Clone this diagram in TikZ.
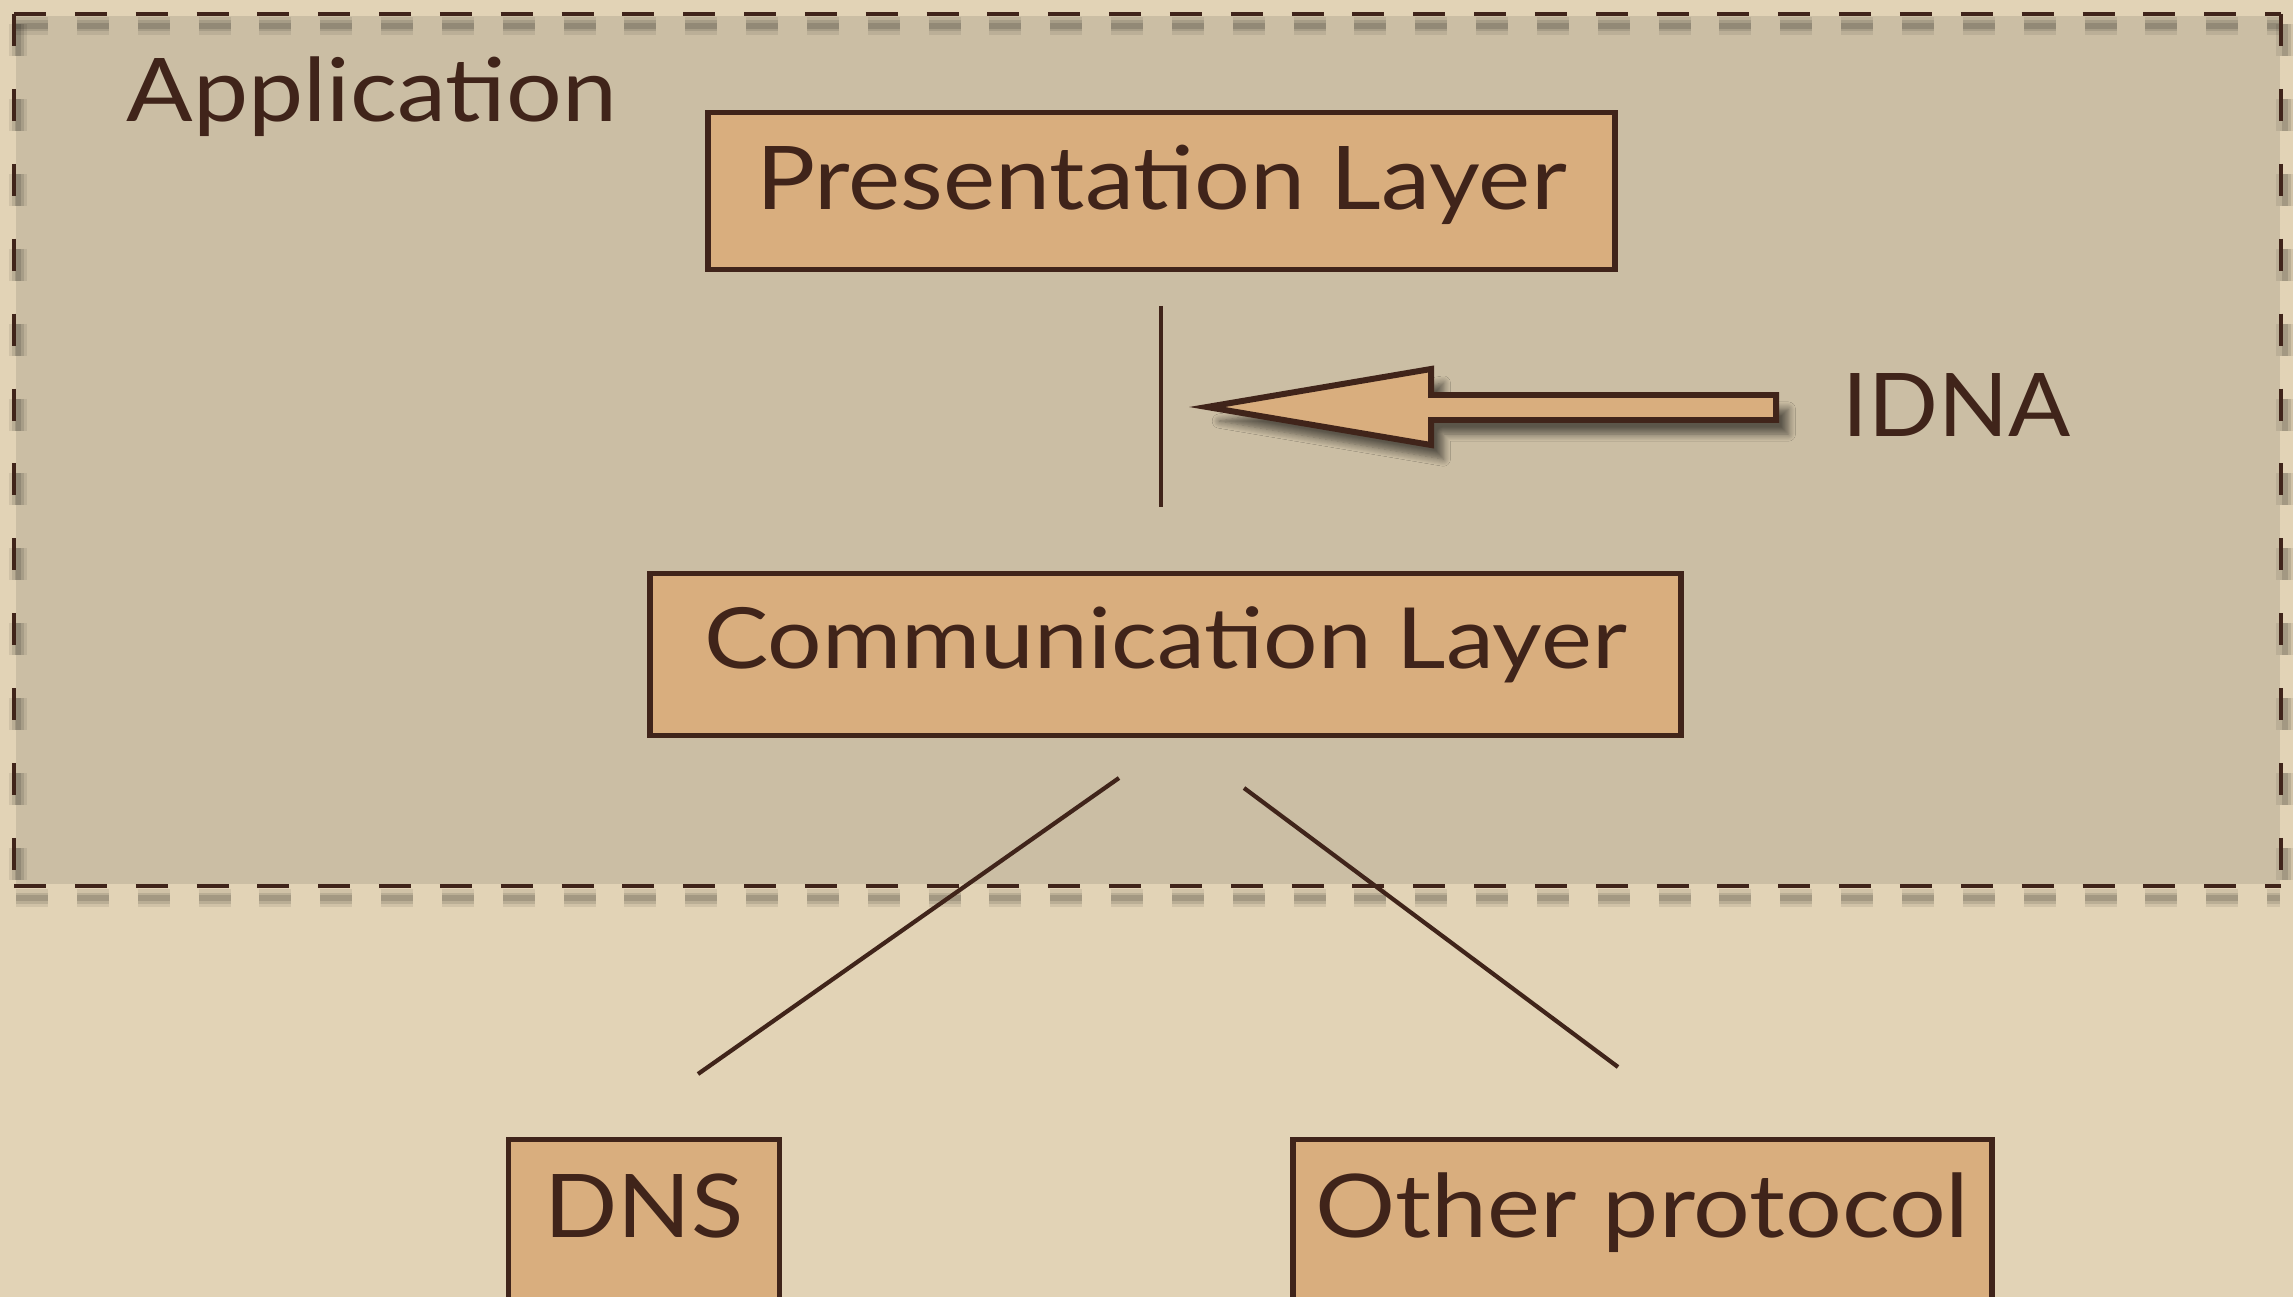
\documentclass[tikz,border=0pt]{standalone}
\usepackage{fontspec}
\setmainfont{Lato}
\usetikzlibrary{shadows.blur}
\definecolor{ink}{HTML}{40241A}
\definecolor{paper}{HTML}{E2D3B6}
\definecolor{paperin}{HTML}{CBBEA4}
\definecolor{tan}{HTML}{D9AE7E}
\newcommand\fitto[2]{\resizebox{#1}{\height}{#2}}
\tikzset{
  layerbox/.style={draw=ink, fill=tan, line width=1.6pt, inner sep=0pt, text=ink},
  conn/.style={draw=ink, line width=1.2pt},
  plain/.style={text=ink, inner sep=0pt},
  appdash/.style={draw=ink, line width=1.2pt, dash pattern=on 9.1pt off 8.2pt},
  appdashv/.style={draw=ink, line width=1.2pt, dash pattern=on 9.1pt off 12.2pt},
}
\begin{document}
\begin{tikzpicture}[x=0.01cm,y=-0.01cm]
\useasboundingbox (0,0) rectangle (2293,1297);
\clip (0,0) rectangle (2293,1297);
% background
\fill[paper] (0,0) rectangle (2293,1297);
% application region
\fill[paperin] (16,16) rectangle (2280,884);
% shadow of dashed frame
\foreach \w/\o in {18/0.08,11/0.10,6/0.12}{
  \draw[black,opacity=\o,line width=\w*0.2845pt,dash pattern=on 9.1pt off 8.2pt] (16,26) -- (2280,26);
  \draw[black,opacity=\o,line width=\w*0.2845pt,dash pattern=on 9.1pt off 8.2pt] (16,898) -- (2280,898);
  \draw[black,opacity=\o,line width=\w*0.2845pt,dash pattern=on 9.1pt off 12.2pt] (18,24) -- (18,884);
  \draw[black,opacity=\o,line width=\w*0.2845pt,dash pattern=on 9.1pt off 12.2pt] (2285,24) -- (2285,884);
}
\coordinate (fa) at (14,14);
\coordinate (fb) at (2281,14);
\coordinate (fc) at (2281,886);
\coordinate (fd) at (14,886);
\draw[appdash] (fa) -- (fb);
\draw[appdash] (fd) -- (fc);
\draw[appdashv] (fa) -- (fd);
\draw[appdashv] (fb) -- (fc);

\node[plain, anchor=base west] (app) at (126,122)
  {\fontsize{25pt}{30pt}\selectfont\fitto{4.9cm}{Application}};

% layer boxes
\node[layerbox, minimum width=9.06cm, minimum height=1.57cm,
      text height=0.63cm, text depth=0.27cm] (pres) at (1161.5,191)
  {\fontsize{25pt}{30pt}\selectfont\fitto{8.1cm}{Presentation Layer}};
\node[layerbox, minimum width=10.30cm, minimum height=1.62cm,
      text height=0.60cm, text depth=0.33cm] (comm) at (1165.5,654.5)
  {\fontsize{24pt}{30pt}\selectfont\fitto{9.22cm}{Communication Layer}};
\node[layerbox, minimum width=2.71cm, minimum height=1.60cm,
      text height=0.63cm, text depth=0.28cm] (dns) at (644,1219.5)
  {\fontsize{25pt}{30pt}\selectfont\fitto{1.99cm}{DNS}};
\node[layerbox, minimum width=6.98cm, minimum height=1.60cm,
      text height=0.63cm, text depth=0.28cm] (other) at (1642.5,1219.5)
  {\fontsize{25pt}{30pt}\selectfont\fitto{6.53cm}{Other protocol}};

% vertical interface line
\coordinate (vtop) at (1161,306);
\coordinate (vbot) at (1161,507);
\draw[conn] (vtop) -- (vbot);

% branches
\coordinate (la) at (1119,778);
\coordinate (lb) at (698,1074);
\coordinate (ra) at (1244,788);
\coordinate (rb) at (1618,1067);
\draw[conn] (la) -- (lb);
\draw[conn] (ra) -- (rb);

% IDNA arrow
\path[fill=tan, draw=ink, line width=1.7pt, miter limit=20,
      blur shadow={shadow xshift=3.5pt, shadow yshift=-4pt, shadow blur steps=8, shadow opacity=55}]
  (1207,407) -- (1431,369) -- (1431,395) -- (1776,395) -- (1776,420)
  -- (1431,420) -- (1431,445) -- cycle;
\node[plain, anchor=base west] (idna) at (1842,437)
  {\fontsize{25pt}{30pt}\selectfont\fitto{2.28cm}{IDNA}};
\end{tikzpicture}
\end{document}
